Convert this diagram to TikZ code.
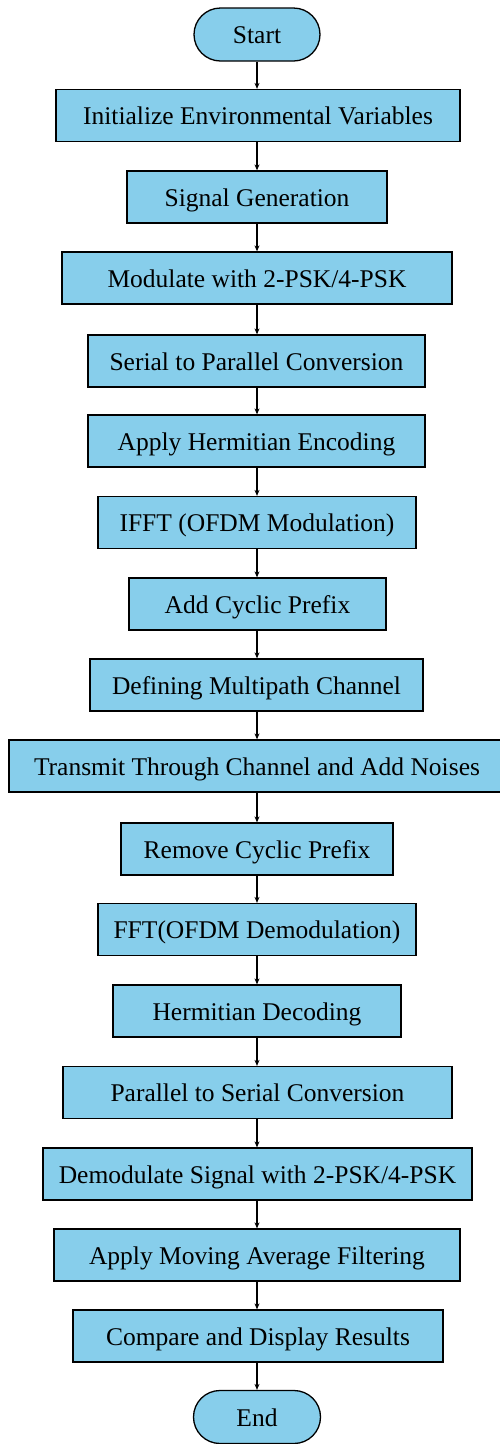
\documentclass[tikz,border=0pt]{standalone}
\usepackage{fontspec}
\setmainfont{Liberation Serif}
\usetikzlibrary{arrows.meta}
\definecolor{boxblue}{RGB}{135,206,235}
\begin{document}
\begin{tikzpicture}[x=1pt,y=-1pt,
  procbox/.style={draw=black, line width=1.3pt, fill=boxblue, minimum height=52pt, inner sep=0pt, text height=23pt, text depth=5pt, font=\fontsize{25.5}{30}\selectfont},
  termbox/.style={procbox, minimum height=53pt, rounded corners=26.5pt},
  flow/.style={line width=1.2pt, -{Stealth[length=6pt,width=5pt]}}]
\useasboundingbox (0,0) rectangle (500,1444);
\node[termbox, minimum width=126pt] (n0) at (257,34.5) {Start};
\node[procbox, minimum width=404pt] (n1) at (258,115.5) {Initialize Environmental Variables};
\node[procbox, minimum width=260pt] (n2) at (257,197) {Signal Generation};
\node[procbox, minimum width=390pt] (n3) at (257,278) {Modulate with 2-PSK/4-PSK};
\node[procbox, minimum width=337pt] (n4) at (256.5,361) {Serial to Parallel Conversion};
\node[procbox, minimum width=337pt] (n5) at (256.5,441) {Apply Hermitian Encoding};
\node[procbox, minimum width=318pt] (n6) at (257,522.5) {IFFT (OFDM Modulation)};
\node[procbox, minimum width=257pt] (n7) at (257.5,604) {Add Cyclic Prefix};
\node[procbox, minimum width=333pt] (n8) at (256.5,685) {Defining Multipath Channel};
\node[procbox, minimum width=496pt] (n9) at (257,766) {Transmit Through Channel and Add Noises};
\node[procbox, minimum width=272pt] (n10) at (257,849) {Remove Cyclic Prefix};
\node[procbox, minimum width=318pt] (n11) at (257,929.5) {FFT(OFDM Demodulation)};
\node[procbox, minimum width=288pt] (n12) at (257,1011) {Hermitian Decoding};
\node[procbox, minimum width=389pt] (n13) at (257.5,1092.5) {Parallel to Serial Conversion};
\node[procbox, minimum width=429pt] (n14) at (257.5,1174) {Demodulate Signal with 2-PSK/4-PSK};
\node[procbox, minimum width=406pt] (n15) at (257,1255) {Apply Moving Average Filtering};
\node[procbox, minimum width=370pt] (n16) at (258,1336) {Compare and Display Results};
\node[termbox, minimum width=127pt] (n17) at (257,1417) {End};
\foreach \a/\b in {n0/n1,n1/n2,n2/n3,n3/n4,n4/n5,n5/n6,n6/n7,n7/n8,n8/n9,n9/n10,n10/n11,n11/n12,n12/n13,n13/n14,n14/n15,n15/n16,n16/n17}
  \draw[flow] (\a.south -| 257,0) -- (\b.north -| 257,0);
\end{tikzpicture}
\end{document}
